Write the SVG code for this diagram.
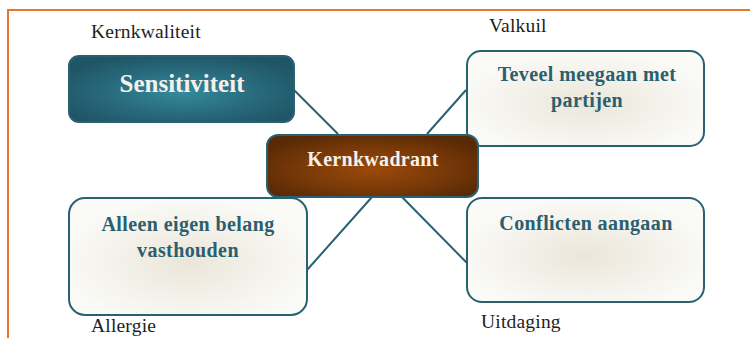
<svg xmlns="http://www.w3.org/2000/svg" width="750" height="338" viewBox="0 0 750 338">
  <defs>
    <radialGradient id="gTeal" cx="50%" cy="55%" r="60%">
      <stop offset="0" stop-color="#35899c"/>
      <stop offset="0.6" stop-color="#27687a"/>
      <stop offset="1" stop-color="#1f5565"/>
    </radialGradient>
    <radialGradient id="gBrown" cx="50%" cy="55%" r="60%">
      <stop offset="0" stop-color="#9c4a08"/>
      <stop offset="0.6" stop-color="#773808"/>
      <stop offset="1" stop-color="#592a05"/>
    </radialGradient>
    <radialGradient id="gPale" cx="50%" cy="55%" r="55%">
      <stop offset="0" stop-color="#ebe6d9"/>
      <stop offset="0.55" stop-color="#f3f1ea"/>
      <stop offset="1" stop-color="#fafaf7"/>
    </radialGradient>
  </defs>
  <style>
    .frame { fill: none; stroke: #e8772a; stroke-width: 2; }
    .link { stroke: #2a6172; stroke-width: 2; fill: none; }
    .box { stroke: #2a6172; stroke-width: 2; }
    .pale { fill: url(#gPale); }
    text { font-family: "Liberation Serif", "DejaVu Serif", serif; }
    .label { font-size: 19.5px; fill: #1e1e1e; letter-spacing: 0.2px; }
    .head { font-weight: bold; text-anchor: middle; }
    .light { fill: #f4f1ea; }
    .dark { fill: #2b5f6e; font-size: 20px; letter-spacing: 0.4px; }
  </style>

  <rect width="750" height="338" fill="#ffffff"/>
  <!-- page border -->
  <polyline class="frame" points="8,338 8,10 750,10"/>

  <!-- connectors -->
  <g id="connectors">
    <line class="link" x1="294" y1="90" x2="338" y2="134"/>
    <line class="link" x1="466" y1="90" x2="427" y2="134"/>
    <line class="link" x1="372" y1="197" x2="307" y2="270"/>
    <line class="link" x1="402" y1="197" x2="467" y2="263"/>
  </g>

  <!-- quadrant captions -->
  <text class="label" x="91" y="38">Kernkwaliteit</text>
  <text class="label" x="489" y="32">Valkuil</text>
  <text class="label" x="91" y="332">Allergie</text>
  <text class="label" x="481" y="328">Uitdaging</text>

  <g id="kernkwaliteit">
    <rect class="box" x="69" y="56" width="225" height="66" rx="10" fill="url(#gTeal)"/>
    <text class="head light" x="182" y="92" font-size="25">Sensitiviteit</text>
  </g>

  <g id="valkuil">
    <rect class="box pale" x="467" y="51" width="237" height="95" rx="14"/>
    <text class="head dark" x="587" y="81">Teveel meegaan met</text>
    <text class="head dark" x="587" y="107">partijen</text>
  </g>

  <g id="kernkwadrant">
    <rect class="box" x="267" y="135" width="211" height="62" rx="11" fill="url(#gBrown)"/>
    <text class="head light" x="373" y="166" font-size="20" letter-spacing="0.3">Kernkwadrant</text>
  </g>

  <g id="allergie">
    <rect class="box pale" x="69" y="198" width="238" height="117" rx="16"/>
    <text class="head dark" x="188" y="231">Alleen eigen belang</text>
    <text class="head dark" x="188" y="257">vasthouden</text>
  </g>

  <g id="uitdaging">
    <rect class="box pale" x="467" y="198" width="237" height="104" rx="15"/>
    <text class="head dark" x="586" y="230">Conflicten aangaan</text>
  </g>
</svg>
